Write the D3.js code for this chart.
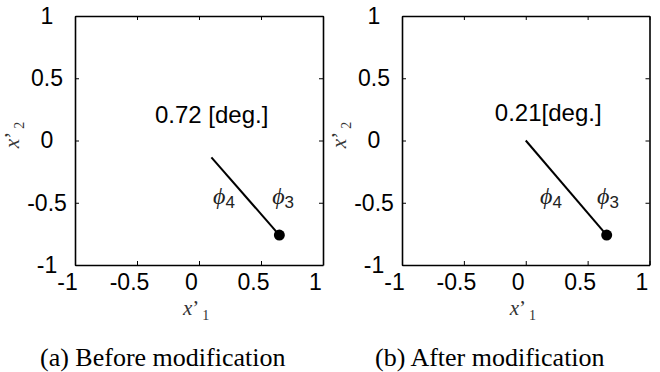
<!DOCTYPE html>
<html>
<head>
<meta charset="utf-8">
<script src="https://cdn.jsdelivr.net/npm/d3@7"></script>
<style>
  body { margin: 0; background: #fff; }
  svg { display: block; }
</style>
</head>
<body>
<svg id="chart" width="660" height="372"></svg>
<script>
/// Data

var ticks = [-1, -0.5, 0, 0.5, 1];
var tickLabels = ["-1", "-0.5", "0", "0.5", "1"];
var captions = ["(a) Before modification", "(b) After modification"];
var angleText = ["0.72 [deg.]", "0.21[deg.]"];
var angleX = [-0.355, -0.25];
var angleY = [0.14, 0.16];
var lineStart = [[0.10, -0.135], [0.0, 0.0]];
var lineEnd = [[0.648, -0.76], [0.654, -0.76]];
var phi4X = [0.113, 0.115];
var phi3X = [0.59, 0.576];
var phiY = [-0.51, -0.51];


/// Layout

var svg = d3.select("#chart");
var boxLeft = [75, 402];
var boxRight = [323, 649.5];
var boxTop = 16, boxBottom = 265;
var sans = "Arial, 'Liberation Sans', sans-serif";
var serif = "'Times New Roman', 'Liberation Serif', serif";


function drawPanel(i){
	var x = d3.scaleLinear().domain([-1, 1]).range([boxLeft[i], boxRight[i]]);
	var y = d3.scaleLinear().domain([-1, 1]).range([boxBottom, boxTop]);
	var g = svg.append("g");

	// box + inward ticks on all four sides
	var bottom = g.append("g")
		.attr("transform", "translate(0," + boxBottom + ")")
		.call(d3.axisBottom(x).tickValues(ticks).tickFormat(function(d, k){ return tickLabels[k]; })
			.tickSizeInner(-4).tickSizeOuter(0).tickPadding(9));
	var top = g.append("g")
		.attr("transform", "translate(0," + boxTop + ")")
		.call(d3.axisTop(x).tickValues(ticks).tickFormat("").tickSizeInner(-4).tickSizeOuter(0));
	var left = g.append("g")
		.attr("transform", "translate(" + boxLeft[i] + ",0)")
		.call(d3.axisLeft(y).tickValues(ticks).tickFormat(function(d, k){ return tickLabels[k]; })
			.tickSizeInner(-4).tickSizeOuter(0));
	var right = g.append("g")
		.attr("transform", "translate(" + boxRight[i] + ",0)")
		.call(d3.axisRight(y).tickValues(ticks).tickFormat("").tickSizeInner(-4).tickSizeOuter(0));

	g.selectAll(".domain").attr("stroke", "#000").attr("stroke-width", 1.6);
	g.selectAll(".tick line").attr("stroke", "#000").attr("stroke-width", 1);
	g.selectAll(".tick text")
		.attr("font-family", sans)
		.attr("font-size", 23)
		.attr("fill", "#000");
	bottom.selectAll(".tick text").attr("dx", -8);
	left.selectAll(".tick text")
		.attr("text-anchor", "middle")
		.attr("x", -28);

	// axis titles
	var xt = g.append("text")
		.attr("x", (boxLeft[i] + boxRight[i]) / 2 - 16)
		.attr("y", 315)
		.attr("font-family", serif)
		.attr("font-size", 21)
		.attr("fill", "#333");
	xt.append("tspan").attr("font-style", "italic").text("x");
	xt.append("tspan").text("\u2019");
	xt.append("tspan").attr("dx", 3).attr("dy", 5).attr("font-size", 14).text("1");

	var yt = g.append("text")
		.attr("transform", "translate(" + (boxLeft[i] - 56) + "," + 135 + ") rotate(-90)")
		.attr("text-anchor", "middle")
		.attr("font-family", serif)
		.attr("font-size", 21)
		.attr("fill", "#333");
	yt.append("tspan").attr("font-style", "italic").text("x");
	yt.append("tspan").text("\u2019");
	yt.append("tspan").attr("dx", 3).attr("dy", 5).attr("font-size", 14).text("2");

	// mark
	g.append("line")
		.attr("x1", x(lineStart[i][0])).attr("y1", y(lineStart[i][1]))
		.attr("x2", x(lineEnd[i][0])).attr("y2", y(lineEnd[i][1]))
		.attr("stroke", "#000").attr("stroke-width", 2);
	g.append("circle")
		.attr("cx", x(lineEnd[i][0])).attr("cy", y(lineEnd[i][1]))
		.attr("r", 5.5).attr("fill", "#000");

	// annotations
	g.append("text")
		.attr("x", x(angleX[i])).attr("y", y(angleY[i]))
		.attr("font-family", sans).attr("font-size", 24)
		.text(angleText[i]);

	[[phi4X[i], "4"], [phi3X[i], "3"]].forEach(function(p){
		var t = g.append("text")
			.attr("x", x(p[0])).attr("y", y(phiY[i]))
			.attr("font-family", serif).attr("font-size", 24).attr("fill", "#222");
		t.append("tspan").attr("font-style", "italic").text("\u03d5");
		t.append("tspan").attr("dy", 4).attr("font-size", 17).attr("font-family", sans).text(p[1]);
	});

	// caption
	svg.append("text")
		.attr("x", i == 0 ? 40 : 375)
		.attr("y", 366)
		.attr("font-family", serif)
		.attr("font-size", 26)
		.text(captions[i]);
}

drawPanel(0);
drawPanel(1);
</script>
</body>
</html>
